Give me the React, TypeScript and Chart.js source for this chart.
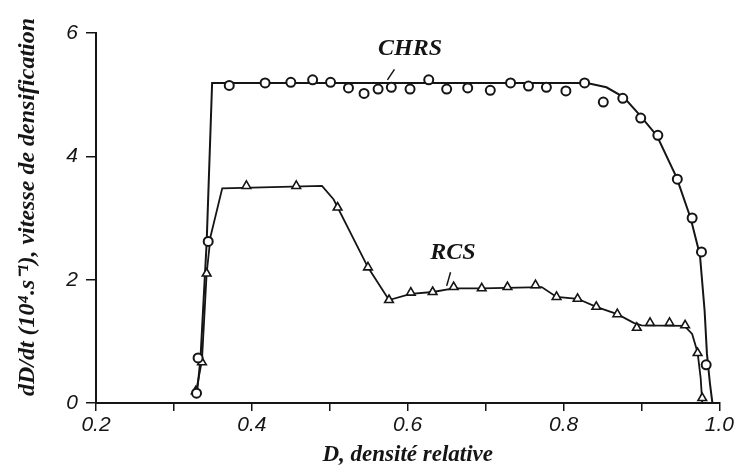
import React, { useEffect, useRef } from "react";
import { Chart, registerables } from "chart.js";

Chart.register(...registerables);

// CHRS fitted curve (D, dD/dt)
const chrsLineD = [0.329, 0.334, 0.342, 0.349, 0.83, 0.855, 0.877, 0.897, 0.92, 0.945, 0.963, 0.975, 0.981, 0.984, 0.988, 0.991];
const chrsLineV = [0.1, 0.7, 2.6, 5.19, 5.19, 5.12, 4.96, 4.68, 4.33, 3.66, 3.0, 2.4, 1.5, 0.8, 0.3, 0];

// CHRS measured points (circles)
const chrsPtsD = [0.329, 0.331, 0.344, 0.371, 0.417, 0.45, 0.478, 0.501, 0.524, 0.544, 0.562, 0.579, 0.603, 0.627, 0.65, 0.677, 0.706, 0.732, 0.755, 0.778, 0.803, 0.827, 0.851, 0.876, 0.899, 0.921, 0.946, 0.965, 0.977, 0.983];
const chrsPtsV = [0.16, 0.73, 2.62, 5.15, 5.19, 5.2, 5.24, 5.2, 5.11, 5.02, 5.09, 5.12, 5.09, 5.24, 5.09, 5.11, 5.07, 5.19, 5.14, 5.12, 5.06, 5.19, 4.88, 4.94, 4.62, 4.34, 3.63, 3.0, 2.45, 0.62];

// RCS fitted curve
const rcsLineD = [0.328, 0.336, 0.342, 0.347, 0.362, 0.49, 0.505, 0.549, 0.576, 0.604, 0.632, 0.659, 0.695, 0.772, 0.791, 0.818, 0.842, 0.869, 0.89, 0.9, 0.955, 0.965, 0.972, 0.976, 0.978];
const rcsLineV = [0.15, 0.7, 2.1, 2.7, 3.48, 3.52, 3.3, 2.2, 1.67, 1.77, 1.8, 1.86, 1.86, 1.88, 1.72, 1.69, 1.56, 1.44, 1.3, 1.26, 1.25, 1.12, 0.82, 0.4, 0];

// RCS measured points (triangles)
const rcsPtsD = [0.328, 0.336, 0.342, 0.393, 0.457, 0.51, 0.549, 0.576, 0.604, 0.632, 0.659, 0.695, 0.728, 0.764, 0.791, 0.818, 0.842, 0.869, 0.894, 0.911, 0.936, 0.956, 0.972, 0.978];
const rcsPtsV = [0.19, 0.66, 2.1, 3.52, 3.52, 3.17, 2.2, 1.67, 1.79, 1.8, 1.88, 1.86, 1.88, 1.91, 1.72, 1.69, 1.56, 1.44, 1.22, 1.3, 1.3, 1.26, 0.81, 0.08];

// Curve labels (text, anchor D, anchor value, leader start/end)
const labelTexts = ["CHRS", "RCS"];
const labelD = [0.603, 0.658];
const labelV = [5.75, 2.43];
const leaderFromD = [0.583, 0.655];
const leaderFromV = [5.41, 2.12];
const leaderToD = [0.574, 0.65];
const leaderToV = [5.24, 1.9];

const xMin = 0.2;
const xMax = 1.0;
const xStep = 0.1;
const yMin = 0;
const yMax = 6;
const yStep = 2;

const xTitle = "D, densité relative";
const yTitle = "dD/dt (10⁴.s⁻¹), vitesse de densification";

const zip = (xs: number[], ys: number[]) => xs.map((x, i) => ({ x, y: ys[i] }));

const INK = "#151515";

export default function App() {
  const ref = useRef<HTMLCanvasElement | null>(null);

  useEffect(() => {
    document.body.style.margin = "0";
    const canvas = ref.current;
    if (!canvas) return;

    const labelsPlugin = {
      id: "curveLabels",
      afterDatasetsDraw(chart: any) {
        const { ctx, scales } = chart;
        const xs = scales.x;
        const ys = scales.y;
        ctx.save();
        ctx.fillStyle = INK;
        ctx.strokeStyle = INK;
        ctx.lineWidth = 1.5;
        ctx.font = 'italic bold 24px "Liberation Serif"';
        ctx.textAlign = "center";
        ctx.textBaseline = "middle";
        labelTexts.forEach((t, i) => {
          ctx.fillText(t, xs.getPixelForValue(labelD[i]), ys.getPixelForValue(labelV[i]));
          ctx.beginPath();
          ctx.moveTo(xs.getPixelForValue(leaderFromD[i]), ys.getPixelForValue(leaderFromV[i]));
          ctx.lineTo(xs.getPixelForValue(leaderToD[i]), ys.getPixelForValue(leaderToV[i]));
          ctx.stroke();
        });
        // vertical axis title
        ctx.font = 'italic bold 24px "Liberation Serif"';
        ctx.translate(28, 207);
        ctx.rotate(-Math.PI / 2);
        ctx.fillText(yTitle, 0, 0);
        ctx.restore();
      },
    };

    const chart = new Chart(canvas, {
      type: "scatter",
      data: {
        datasets: [
          {
            label: "CHRS fit",
            data: zip(chrsLineD, chrsLineV),
            showLine: true,
            borderColor: INK,
            borderWidth: 2,
            pointRadius: 0,
            tension: 0,
            order: 3,
          },
          {
            label: "RCS fit",
            data: zip(rcsLineD, rcsLineV),
            showLine: true,
            borderColor: INK,
            borderWidth: 1.8,
            pointRadius: 0,
            tension: 0,
            order: 4,
          },
          {
            label: "CHRS",
            data: zip(chrsPtsD, chrsPtsV),
            showLine: false,
            pointStyle: "circle",
            pointRadius: 4.5,
            pointBorderWidth: 2,
            pointBorderColor: INK,
            pointBackgroundColor: "#ffffff",
            order: 1,
          },
          {
            label: "RCS",
            data: zip(rcsPtsD, rcsPtsV),
            showLine: false,
            pointStyle: "triangle",
            pointRadius: 5,
            pointBorderWidth: 1.6,
            pointBorderColor: INK,
            pointBackgroundColor: "#ffffff",
            order: 2,
          },
        ],
      },
      options: {
        responsive: false,
        animation: false,
        devicePixelRatio: 1,
        layout: { padding: { top: 33, right: 16, left: 0, bottom: 0 } },
        plugins: {
          legend: { display: false },
          tooltip: { enabled: false },
        },
        scales: {
          x: {
            type: "linear",
            min: xMin,
            max: xMax,
            afterFit: (s: any) => {
              s.height = 72;
            },
            border: { display: true, color: INK, width: 2 },
            grid: {
              display: true,
              drawOnChartArea: false,
              drawTicks: true,
              tickLength: 8,
              color: INK,
              lineWidth: 1.5,
            },
            ticks: {
              stepSize: xStep,
              autoSkip: false,
              maxRotation: 0,
              padding: 2,
              color: INK,
              font: { family: '"Liberation Sans"', size: 21, style: "italic" },
              callback: (v: any) => {
                const n = Math.round(Number(v) * 10);
                return n % 2 === 0 ? (n / 10).toFixed(1) : "";
              },
            },
            title: {
              display: true,
              text: xTitle,
              color: INK,
              padding: { top: 0, bottom: 6 },
              font: { family: '"Liberation Serif"', size: 23, style: "italic", weight: "bold" },
            },
          },
          y: {
            type: "linear",
            min: yMin,
            max: yMax,
            afterFit: (s: any) => {
              s.width = 96;
            },
            border: { display: true, color: INK, width: 2 },
            grid: {
              display: true,
              drawOnChartArea: false,
              drawTicks: true,
              tickLength: 10,
              color: INK,
              lineWidth: 1.5,
            },
            ticks: {
              stepSize: yStep,
              padding: 8,
              color: INK,
              font: { family: '"Liberation Sans"', size: 21, style: "italic" },
            },
            title: { display: false },
          },
        },
      },
      plugins: [labelsPlugin],
    } as any);

    return () => chart.destroy();
  }, []);

  return (
    <div style={{ position: "fixed", left: 0, top: 0, width: 736, height: 475, background: "#fff" }}>
      <canvas ref={ref} width={736} height={475} />
    </div>
  );
}
